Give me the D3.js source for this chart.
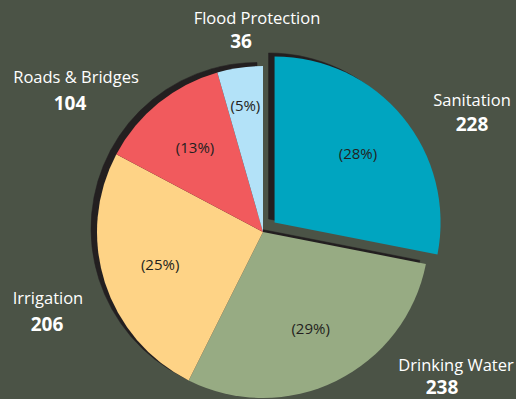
<!DOCTYPE html>
<html>
<head>
<meta charset="utf-8">
<script src="https://cdn.jsdelivr.net/npm/d3@7"></script>
<style>
  html, body { margin: 0; padding: 0; background: #4b5346; }
  svg { display: block; }
</style>
</head>
<body>
<svg id="chart" width="516" height="399"></svg>
<script>
// Budget allocation by sector
const categories = ["Sanitation", "Drinking Water", "Irrigation", "Roads & Bridges", "Flood Protection"];
const values = [228, 238, 206, 104, 36];
const shareLabels = ["(28%)", "(29%)", "(25%)", "(13%)", "(5%)"];
const colors = ["#00a5c0", "#97ab83", "#fed386", "#f15a5d", "#b3e2f8"];

// Layout
const W = 516, H = 399;
const cx = 263, cy = 232, R = 166;
const explodeIndex = 0, explodeDist = 15;
const shadowDx = -6, shadowDy = -3.5;
const shareRadius = [108, 108, 108, 108, 127];
// outside label anchors: [name x, name baseline, value x, value baseline]
const labelAnchors = [
  [472, 106, 472, 131],
  [456, 371, 442, 394],
  [48, 304, 47, 331],
  [76, 83, 70, 110],
  [257, 24, 241, 48]
];

const svg = d3.select("#chart");
svg.append("rect").attr("width", W).attr("height", H).attr("fill", "#4b5346");

const pie = d3.pie().sort(null).value(d => d).startAngle(0).endAngle(2 * Math.PI);
const arcs = pie(values);
const arc = d3.arc().innerRadius(0).outerRadius(R);

const offsetOf = (d, i) => {
  if (i !== explodeIndex) return [0, 0];
  const a = (d.startAngle + d.endAngle) / 2;
  return [Math.sin(a) * explodeDist, -Math.cos(a) * explodeDist];
};

const g = svg.append("g").attr("transform", `translate(${cx},${cy})`);

// drop shadow under the slices
g.append("g")
  .attr("transform", `translate(${shadowDx},${shadowDy})`)
  .selectAll("path")
  .data(arcs)
  .join("path")
  .attr("transform", (d, i) => `translate(${offsetOf(d, i)})`)
  .attr("d", arc)
  .attr("fill", "#231f20")
  .attr("stroke", "#231f20")
  .attr("stroke-width", 0.5);

// slices
g.append("g")
  .selectAll("path")
  .data(arcs)
  .join("path")
  .attr("transform", (d, i) => `translate(${offsetOf(d, i)})`)
  .attr("d", arc)
  .attr("fill", (d, i) => colors[i]);

// share labels inside slices
g.append("g")
  .selectAll("text")
  .data(arcs)
  .join("text")
  .attr("transform", (d, i) => {
    const a = (d.startAngle + d.endAngle) / 2;
    const [ox, oy] = offsetOf(d, i);
    const r = shareRadius[i];
    return `translate(${ox + Math.sin(a) * r},${oy - Math.cos(a) * r})`;
  })
  .attr("text-anchor", "middle")
  .attr("dy", "0.35em")
  .attr("font-family", "'Open Sans', sans-serif")
  .attr("font-size", 15)
  .attr("fill", "#231f20")
  .text((d, i) => shareLabels[i]);

// category names and amounts
const outer = svg.append("g").attr("font-family", "'Open Sans', sans-serif").attr("fill", "#ffffff");
categories.forEach((name, i) => {
  const [nx, ny, vx, vy] = labelAnchors[i];
  outer.append("text")
    .attr("x", nx).attr("y", ny)
    .attr("text-anchor", "middle")
    .attr("font-size", 16.5)
    .attr("fill", "#ffffff")
    .text(name);
  outer.append("text")
    .attr("x", vx).attr("y", vy)
    .attr("text-anchor", "middle")
    .attr("font-size", 19)
    .attr("font-weight", "bold")
    .attr("fill", "#ffffff")
    .text(values[i]);
});
</script>
</body>
</html>
